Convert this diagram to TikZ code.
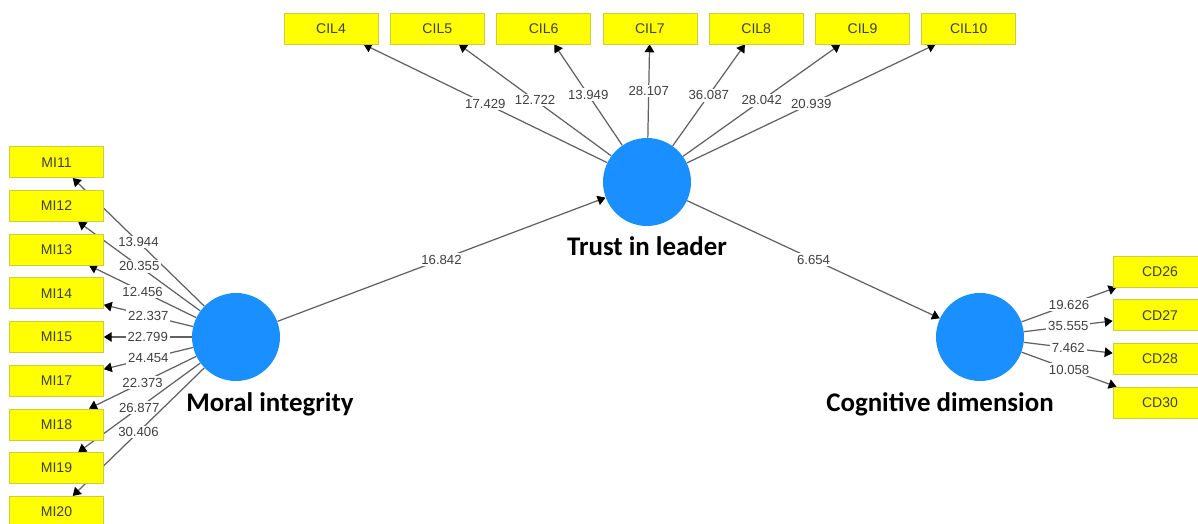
\documentclass[tikz,border=0pt]{standalone}
\usepackage{fontspec}
\setmainfont{Liberation Sans}
\newfontfamily\latfont{Carlito}
\usetikzlibrary{arrows.meta,positioning,backgrounds}
\definecolor{lvblue}{HTML}{1A8FFF}
\definecolor{mvfill}{HTML}{FFFF00}
\definecolor{mvdraw}{HTML}{CDCD3C}

\begin{document}
\begin{tikzpicture}[x=0.02cm, y=-0.02cm,
  latent/.style={circle, fill=lvblue, minimum size=1.76cm, inner sep=0pt},
  indicator/.style={draw=mvdraw, fill=mvfill, minimum width=1.88cm, minimum height=0.62cm, inner sep=0pt, font=\fontsize{8}{9}\selectfont, text=black!75},
  latlabel/.style={font=\latfont\bfseries\fontsize{15.3}{17}\selectfont},
  arr/.style={-{Triangle[length=4.5pt, width=5.5pt, color=black]}, black!62, line width=0.7pt},
  val/.style={fill=white, inner sep=1pt, font=\fontsize{7.5}{8}\selectfont, text=black!75}
]
  \clip (0,0) rectangle (1198,524);

  % latent variables
  \node[latent] (til) at (647,182) {};
  \node[latent] (mi) at (236,337) {};
  \node[latent] (cd) at (980,337) {};
  \node[latlabel, below=2.5pt of til] (tiltxt) {Trust in leader};
  \node[latlabel, below=3pt of mi, xshift=0.68cm] (mitxt) {Moral integrity};
  \node[latlabel, below=3pt of cd, xshift=-0.8cm] (cdtxt) {Cognitive dimension};

  % indicators
  \foreach \n [count=\i from 0] in {4,...,10}
    \node[indicator] (cil\n) at (331+106.3*\i,28.5) {CIL\n};
  \foreach \n [count=\i from -4] in {11,12,13,14,15,17,18,19,20}
    \node[indicator] (mi\n) at (56.5,337+43.7*\i) {MI\n};
  \foreach \n [count=\i from 0] in {26,27,28,30}
    \node[indicator] (cd\n) at (1160,271.5+43.7*\i) {CD\n};

  % loadings and paths
  \begin{scope}[on background layer]
    \foreach \n/\v in {4/17.429,5/12.722,6/13.949,7/28.107,8/36.087,9/28.042,10/20.939}
      \draw[arr] (til) -- (cil\n) node[val, midway] (vcil\n) {\v};
    \foreach \n/\v in {11/13.944,12/20.355,13/12.456,14/22.337,15/22.799,17/24.454,18/22.373,19/26.877,20/30.406}
      \draw[arr] (mi) -- (mi\n) node[val, midway] (vmi\n) {\v};
    \foreach \n/\v in {26/19.626,27/35.555,28/7.462,30/10.058}
      \draw[arr] (cd) -- (cd\n) node[val, midway] (vcd\n) {\v};
    \draw[arr] (mi) -- (til) node[val, midway] (vmitil) {16.842};
    \draw[arr] (til) -- (cd) node[val, midway] (vtilcd) {6.654};
  \end{scope}
\end{tikzpicture}
\end{document}
